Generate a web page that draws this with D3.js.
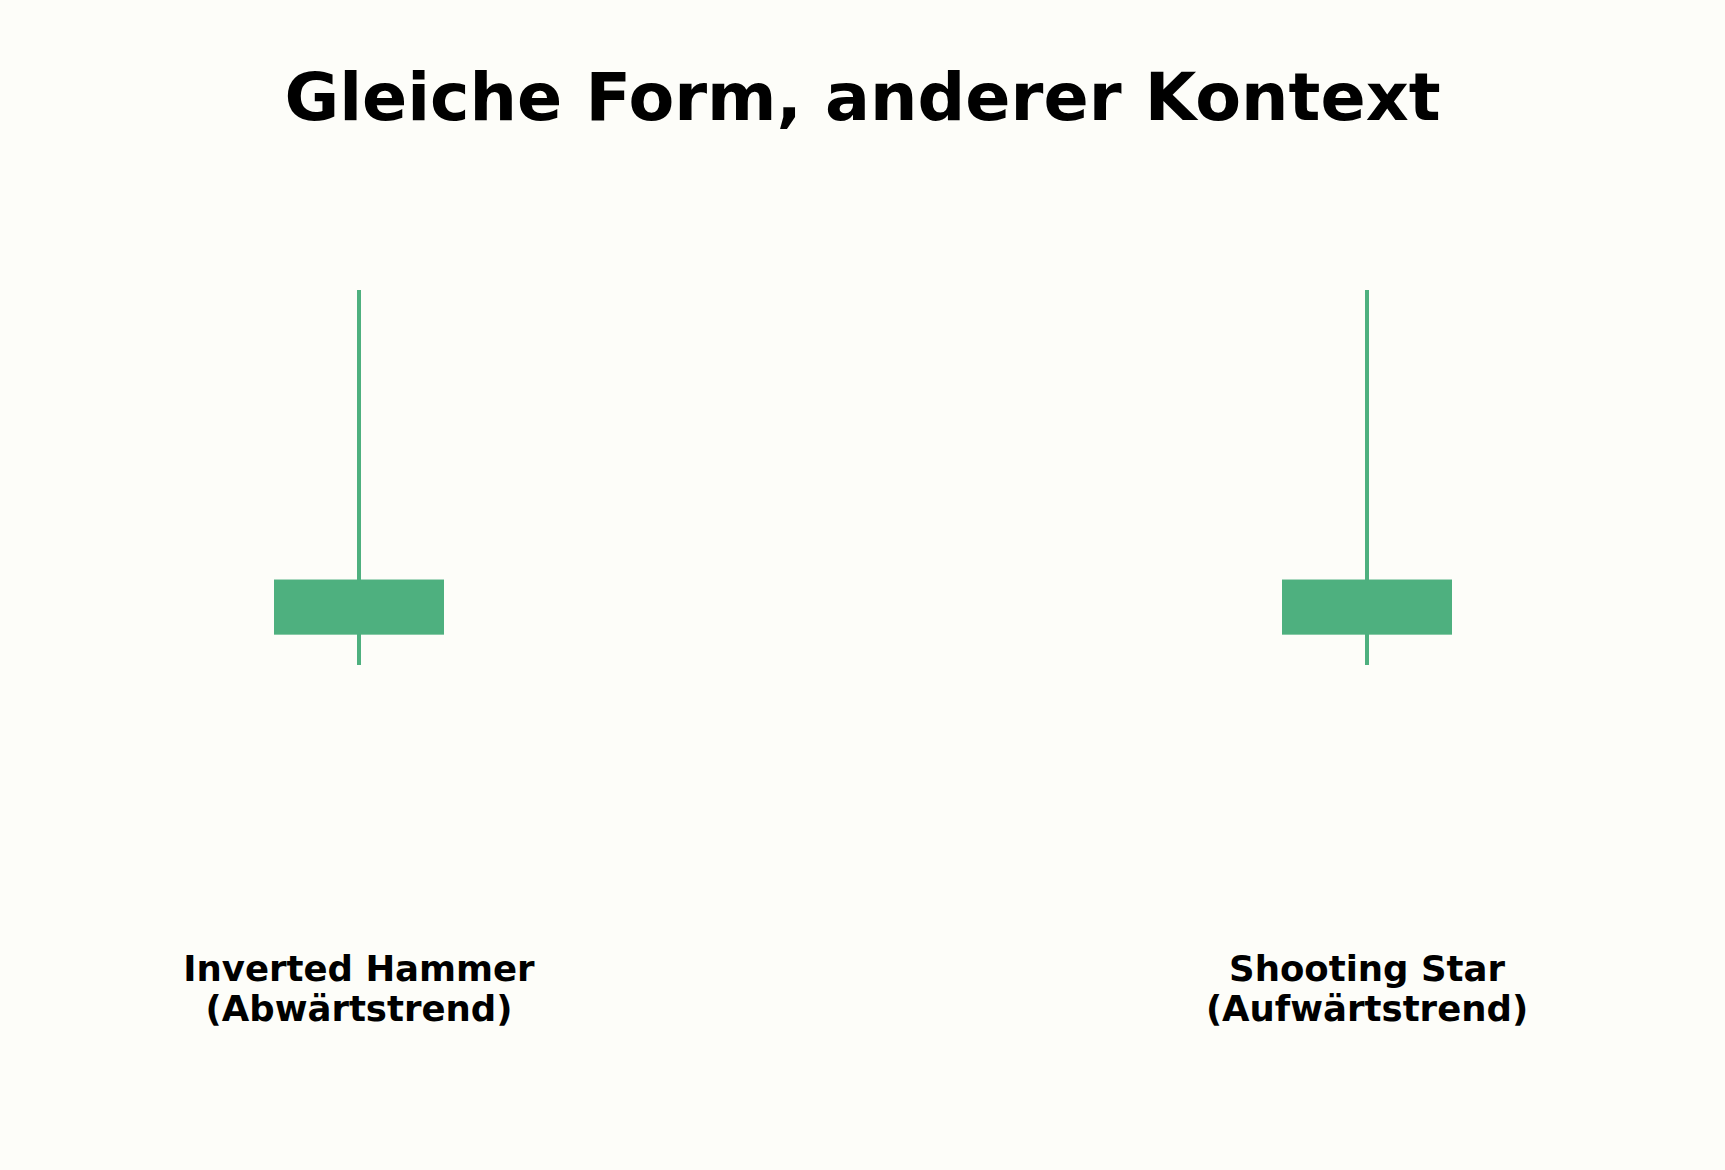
<!DOCTYPE html>
<html lang="de">
<head>
    <meta charset="UTF-8">
    <title>Gleiche Form, anderer Kontext</title>
    <script src="https://d3js.org/d3.v7.min.js"></script>
    <style>
        body { margin: 0; background: #fdfdf9; }
        text { font-family: "DejaVu Sans", sans-serif; font-weight: bold; fill: #000; }
    </style>
</head>
<body>
<div id="chart"></div>

<script>
    // candle data - both candles have the same shape
    var patterns = ["Inverted Hammer", "Shooting Star"];
    var trends = ["(Abwärtstrend)", "(Aufwärtstrend)"];
    var opens = [100, 100];
    var closes = [101, 101];
    var highs = [106.25, 106.25];
    var lows = [99.45, 99.45];

    var width = 1725,
        height = 1170;

    var svg = d3.select("#chart")
        .append("svg")
            .attr("width", width)
            .attr("height", height);

    svg.append("rect")
        .attr("width", width)
        .attr("height", height)
        .attr("fill", "#fdfdf9");

    var candles = patterns.map(function(p, i) {
        return {name: p, trend: trends[i], open: opens[i], close: closes[i], high: highs[i], low: lows[i]};
    });

    // x positions of the two candles
    var x = d3.scalePoint()
        .domain(patterns)
        .range([359, 1367]);

    // price scale
    var y = d3.scaleLinear()
        .domain([99.45, 106.25])
        .range([665, 290]);

    var bodyWidth = 170;
    var green = "#4eb07f";

    // wicks
    svg.append("g")
        .selectAll("line")
        .data(candles)
        .enter()
        .append("line")
            .attr("x1", function(d) { return x(d.name); })
            .attr("x2", function(d) { return x(d.name); })
            .attr("y1", function(d) { return y(d.high); })
            .attr("y2", function(d) { return y(d.low); })
            .attr("stroke", green)
            .attr("stroke-width", 4);

    // bodies
    svg.append("g")
        .selectAll("rect")
        .data(candles)
        .enter()
        .append("rect")
            .attr("x", function(d) { return x(d.name) - bodyWidth / 2; })
            .attr("y", function(d) { return y(Math.max(d.open, d.close)); })
            .attr("width", bodyWidth)
            .attr("height", function(d) { return Math.abs(y(d.open) - y(d.close)); })
            .attr("fill", green);

    // labels under each candle
    var labels = svg.append("g")
        .selectAll("text")
        .data(candles)
        .enter()
        .append("text")
            .attr("text-anchor", "middle")
            .style("font-size", "35.5px");

    labels.append("tspan")
        .attr("x", function(d) { return x(d.name); })
        .attr("y", 981)
        .text(function(d) { return d.name; });

    labels.append("tspan")
        .attr("x", function(d) { return x(d.name); })
        .attr("y", 1021)
        .text(function(d) { return d.trend; });

    // title
    svg.append("text")
        .attr("x", width / 2)
        .attr("y", 120)
        .attr("text-anchor", "middle")
        .style("font-size", "66.7px")
        .text("Gleiche Form, anderer Kontext");
</script>
</body>
</html>
